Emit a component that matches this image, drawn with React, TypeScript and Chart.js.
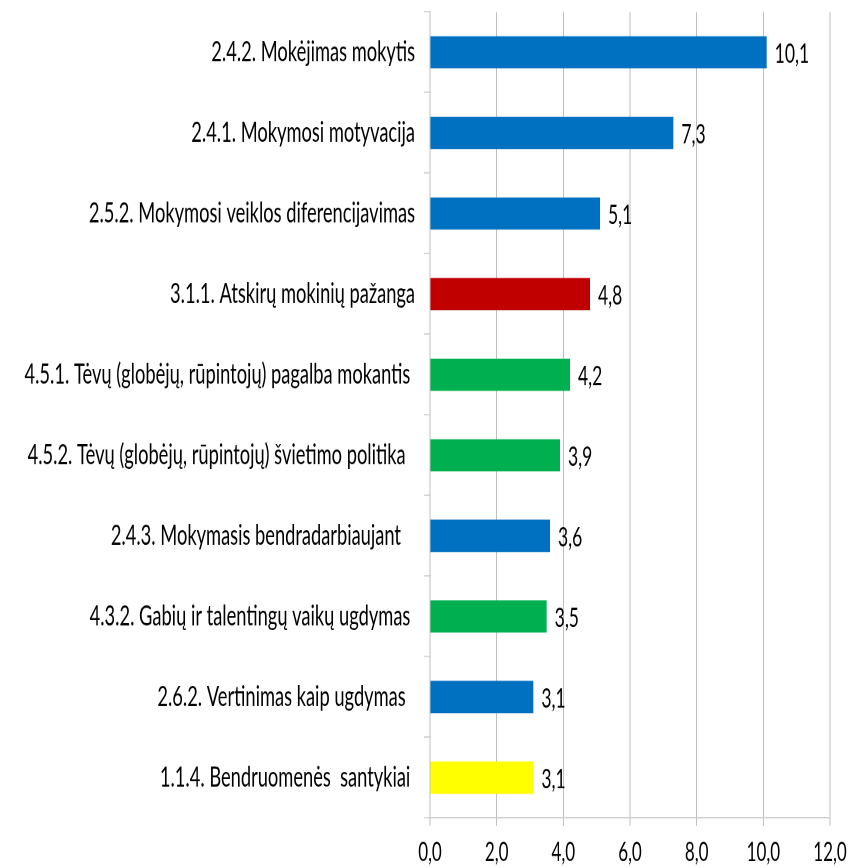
import { useEffect, useRef } from 'react';
import { Chart, registerables } from 'chart.js';

Chart.register(...registerables);

const categories = [
  '2.4.2. Mokėjimas mokytis',
  '2.4.1. Mokymosi motyvacija',
  '2.5.2. Mokymosi veiklos diferencijavimas',
  '3.1.1. Atskirų mokinių pažanga',
  '4.5.1. Tėvų (globėjų, rūpintojų) pagalba mokantis ',
  '4.5.2. Tėvų (globėjų, rūpintojų) švietimo politika  ',
  '2.4.3. Mokymasis bendradarbiaujant   ',
  '4.3.2. Gabių ir talentingų vaikų ugdymas ',
  '2.6.2. Vertinimas kaip ugdymas  ',
  '1.1.4. Bendruomenės  santykiai ',
];
const values = [10.1, 7.3, 5.1, 4.8, 4.2, 3.9, 3.6, 3.5, 3.1, 3.1];
const barColors = [
  '#0070C0', '#0070C0', '#0070C0', '#C00000', '#00B050',
  '#00B050', '#0070C0', '#00B050', '#0070C0', '#FFFF00',
];
const xMin = 0;
const xMax = 12;
const xStep = 2;

const K = 1.55; // vertical stretch of the whole picture
const W = 849;
const H = 867 / K;
const FONT = 'Lato, "Liberation Sans", sans-serif';
const GRID = '#BFBFBF';

const fmt = (v: number) => Number(v).toFixed(1).replace('.', ',');

const valueLabels = {
  id: 'valueLabels',
  afterDatasetsDraw(chart: any) {
    const ctx = chart.ctx;
    const meta = chart.getDatasetMeta(0);
    ctx.save();
    ctx.font = `17.5px ${FONT}`;
    ctx.fillStyle = '#000';
    ctx.textAlign = 'left';
    ctx.textBaseline = 'middle';
    meta.data.forEach((bar: any, i: number) => {
      ctx.fillText(fmt(values[i]), bar.x + 8, bar.y + 1);
    });
    ctx.restore();
  },
};

export default function App() {
  const ref = useRef<HTMLCanvasElement>(null);
  useEffect(() => {
    document.body.style.margin = '0';
    const chart = new Chart(ref.current as HTMLCanvasElement, {
      type: 'bar',
      data: {
        labels: categories,
        datasets: [
          {
            data: values,
            backgroundColor: barColors,
            borderWidth: 0,
            barPercentage: 0.4,
            categoryPercentage: 1,
          },
        ],
      },
      options: {
        indexAxis: 'y',
        animation: false,
        responsive: true,
        maintainAspectRatio: false,
        devicePixelRatio: 2,
        layout: { padding: { top: 12 / K, right: 19, left: 0, bottom: 0 } },
        plugins: { legend: { display: false }, tooltip: { enabled: false } },
        scales: {
          x: {
            type: 'linear',
            min: xMin,
            max: xMax,
            ticks: {
              stepSize: xStep,
              callback: (v: any) => fmt(v),
              font: { family: FONT, size: 17 },
              color: '#000',
              padding: 7,
            },
            grid: { color: GRID, lineWidth: 1, tickLength: 8 / K },
            border: { color: GRID, width: 1 / K },
            afterFit: (s: any) => {
              s.height = H - 818 / K;
              s.paddingLeft = 0;
              s.paddingRight = 0;
            },
          },
          y: {
            type: 'category',
            ticks: {
              font: { family: FONT, size: 18.3 },
              color: '#000',
              padding: 9,
            },
            grid: {
              drawOnChartArea: false,
              color: GRID,
              lineWidth: 1 / K,
              tickLength: 6,
              offset: true,
            },
            border: { color: GRID, width: 1 },
            afterFit: (s: any) => {
              s.width = 430;
              s.paddingTop = 0;
              s.paddingBottom = 0;
            },
          },
        },
      },
      plugins: [valueLabels],
    });
    return () => chart.destroy();
  }, []);
  return (
    <div
      style={{
        position: 'absolute',
        left: 0,
        top: 0,
        width: W,
        height: H,
        transform: `scaleY(${K})`,
        transformOrigin: '0 0',
      }}
    >
      <canvas ref={ref} />
    </div>
  );
}
